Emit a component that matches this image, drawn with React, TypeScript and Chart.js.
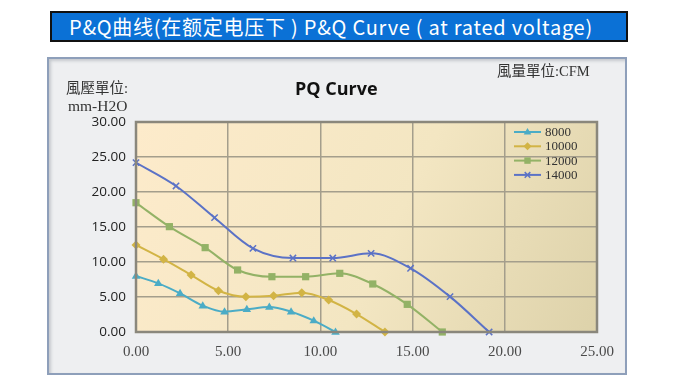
import React, { useEffect, useRef } from "react";
import { Chart, registerables } from "chart.js";

Chart.register(...registerables);

const seriesNames = ["8000", "10000", "12000", "14000"];
const x8000 = [0, 1.21, 2.39, 3.62, 4.8, 6.01, 7.23, 8.41, 9.64, 10.82];
const y8000 = [8.0, 6.95, 5.52, 3.76, 2.9, 3.24, 3.57, 2.9, 1.62, 0];
const x10000 = [0, 1.49, 2.99, 4.47, 5.96, 7.46, 8.99, 10.45, 11.96, 13.5];
const y10000 = [12.43, 10.4, 8.14, 5.9, 5.05, 5.19, 5.62, 4.57, 2.57, 0];
const x12000 = [0, 1.81, 3.75, 5.51, 7.37, 9.2, 11.05, 12.84, 14.71, 16.61];
const y12000 = [18.47, 15.05, 12.05, 8.86, 7.9, 7.9, 8.38, 6.86, 3.95, 0];
const x14000 = [0, 2.17, 4.26, 6.34, 8.51, 10.67, 12.75, 14.89, 17.03, 19.15];
const y14000 = [24.2, 20.86, 16.33, 11.95, 10.57, 10.57, 11.24, 9.1, 5.05, 0];
const xTicks = [0, 5, 10, 15, 20, 25];
const yTicks = [0, 5, 10, 15, 20, 25, 30];

const colors = ["#4bacc6", "#d2b445", "#93b266", "#5b72c6"];
const pointStyles = ["triangle", "rectRot", "rect", "crossRot"];
const xsAll = [x8000, x10000, x12000, x14000];
const ysAll = [y8000, y10000, y12000, y14000];

function drawMarker(ctx: CanvasRenderingContext2D, style: string, x: number, y: number, r: number, color: string) {
  ctx.save();
  ctx.fillStyle = color;
  ctx.strokeStyle = color;
  ctx.lineWidth = 1.5;
  ctx.beginPath();
  if (style === "triangle") {
    ctx.moveTo(x, y - r);
    ctx.lineTo(x + r * 0.95, y + r * 0.6);
    ctx.lineTo(x - r * 0.95, y + r * 0.6);
    ctx.closePath();
    ctx.fill();
  } else if (style === "rectRot") {
    ctx.moveTo(x, y - r);
    ctx.lineTo(x + r, y);
    ctx.lineTo(x, y + r);
    ctx.lineTo(x - r, y);
    ctx.closePath();
    ctx.fill();
  } else if (style === "rect") {
    ctx.rect(x - r * 0.8, y - r * 0.8, r * 1.6, r * 1.6);
    ctx.fill();
  } else {
    ctx.moveTo(x - r * 0.7, y - r * 0.7);
    ctx.lineTo(x + r * 0.7, y + r * 0.7);
    ctx.moveTo(x + r * 0.7, y - r * 0.7);
    ctx.lineTo(x - r * 0.7, y + r * 0.7);
    ctx.stroke();
  }
  ctx.restore();
}

const plotBgPlugin = {
  id: "plotBg",
  beforeDraw(chart: any) {
    const { ctx, chartArea: a } = chart;
    const g = ctx.createLinearGradient(a.left, a.top, a.right, a.bottom);
    g.addColorStop(0, "#fdebcb");
    g.addColorStop(0.55, "#f3e6c2");
    g.addColorStop(1, "#ddd2aa");
    ctx.save();
    ctx.fillStyle = g;
    ctx.fillRect(a.left, a.top, a.right - a.left, a.bottom - a.top);
    ctx.restore();
  },
  afterDraw(chart: any) {
    const { ctx, chartArea: a } = chart;
    ctx.save();
    ctx.strokeStyle = "#8a877c";
    ctx.lineWidth = 2.5;
    ctx.strokeRect(a.left, a.top, a.right - a.left, a.bottom - a.top);
    // legend
    const lx = a.left + 378;
    const ly = a.top + 10;
    ctx.font = "13px 'Liberation Serif', serif";
    ctx.textBaseline = "middle";
    ctx.textAlign = "left";
    seriesNames.forEach((n, i) => {
      const y = ly + i * 14.3;
      ctx.strokeStyle = colors[i];
      ctx.lineWidth = 2;
      ctx.beginPath();
      ctx.moveTo(lx, y);
      ctx.lineTo(lx + 27, y);
      ctx.stroke();
      drawMarker(ctx, pointStyles[i], lx + 13.5, y, 4, colors[i]);
      ctx.fillStyle = "#333";
      ctx.fillText(n, lx + 31, y + 0.5);
    });
    ctx.restore();
  },
};

const markerPlugin = {
  id: "markers",
  afterDatasetsDraw(chart: any) {
    const { ctx } = chart;
    chart.data.datasets.forEach((ds: any, i: number) => {
      const meta = chart.getDatasetMeta(i);
      meta.data.forEach((pt: any) => {
        drawMarker(ctx, pointStyles[i], pt.x, pt.y, 4.5, colors[i]);
      });
    });
  },
};

export default function App() {
  const ref = useRef<HTMLCanvasElement>(null);
  useEffect(() => {
    if (!ref.current) return;
    const chart = new Chart(ref.current, {
      type: "line",
      data: {
        datasets: seriesNames.map((n, i) => ({
          label: n,
          data: xsAll[i].map((x, j) => ({ x, y: ysAll[i][j] })),
          borderColor: colors[i],
          backgroundColor: colors[i],
          borderWidth: 2,
          pointRadius: 0,
          tension: 0.4,
          cubicInterpolationMode: "monotone" as const,
          fill: false,
        })),
      },
      options: {
        responsive: false,
        animation: false,
        events: [],
        layout: { padding: { top: 65, right: 30, left: 0, bottom: 0 } },
        plugins: { legend: { display: false }, tooltip: { enabled: false }, title: { display: false } },
        scales: {
          x: {
            type: "linear",
            min: xTicks[0],
            max: xTicks[xTicks.length - 1],
            afterBuildTicks: (s: any) => { s.ticks = xTicks.map((v) => ({ value: v })); },
            afterFit: (s: any) => { s.height = 43; },
            grid: { color: "#a49e8c", lineWidth: 1.5, drawTicks: false },
            border: { display: false },
            ticks: {
              padding: 11,
              color: "#4a4a4a",
              font: { family: "'Liberation Serif', serif", size: 15 },
              callback: (v: any) => Number(v).toFixed(2),
            },
          },
          y: {
            type: "linear",
            min: yTicks[0],
            max: yTicks[yTicks.length - 1],
            afterBuildTicks: (s: any) => { s.ticks = yTicks.map((v) => ({ value: v })); },
            afterFit: (s: any) => { s.width = 89; },
            grid: { color: "#a49e8c", lineWidth: 1.5, drawTicks: false },
            border: { display: false },
            ticks: {
              padding: 10,
              color: "#222",
              font: { family: "'Open Sans', sans-serif", size: 13.5 },
              callback: (v: any) => Number(v).toFixed(2),
            },
          },
        },
      },
      plugins: [plotBgPlugin, markerPlugin],
    });
    return () => chart.destroy();
  }, []);

  const serifCJK = "'Liberation Serif', 'Noto Sans CJK TC', serif";
  return (
    <div style={{ position: "fixed", left: 0, top: 0, width: 680, height: 380, background: "#fff", overflow: "hidden" }}>
      <div
        style={{
          position: "absolute", left: 50, top: 11, width: 578, height: 31, boxSizing: "border-box",
          background: "#0b71d6", border: "2px solid #111", color: "#fff",
          fontFamily: "'Noto Sans CJK SC', sans-serif", fontSize: 20, lineHeight: "27px",
          letterSpacing: "0.75px", paddingLeft: 17, whiteSpace: "nowrap",
        }}
      >
        P&amp;Q曲线(在额定电压下 ) P&amp;Q Curve ( at rated voltage)
      </div>
      <div
        style={{
          position: "absolute", left: 47, top: 57, width: 580, height: 318, boxSizing: "border-box",
          background: "#eeeff1", border: "2px solid #8e9fba",
          boxShadow: "inset 2px 2px 3px rgba(120,130,140,0.35)",
        }}
      />
      <canvas ref={ref} width={580} height={318} style={{ position: "absolute", left: 47, top: 57, width: 580, height: 318 }} />
      <div style={{ position: "absolute", left: 66, top: 80, fontFamily: serifCJK, fontSize: 14.5, color: "#333", lineHeight: "17px" }}>風壓單位:</div>
      <div style={{ position: "absolute", left: 68, top: 97, fontFamily: serifCJK, fontSize: 15.5, color: "#333", lineHeight: "17px" }}>mm-H2O</div>
      <div style={{ position: "absolute", left: 497, top: 63, fontFamily: serifCJK, fontSize: 14.5, color: "#333", lineHeight: "17px" }}>風量單位:CFM</div>
      <div style={{ position: "absolute", left: 295, top: 76, fontFamily: "'Open Sans', sans-serif", fontWeight: 700, fontSize: 18, color: "#111", lineHeight: "24px" }}>PQ Curve</div>
    </div>
  );
}
